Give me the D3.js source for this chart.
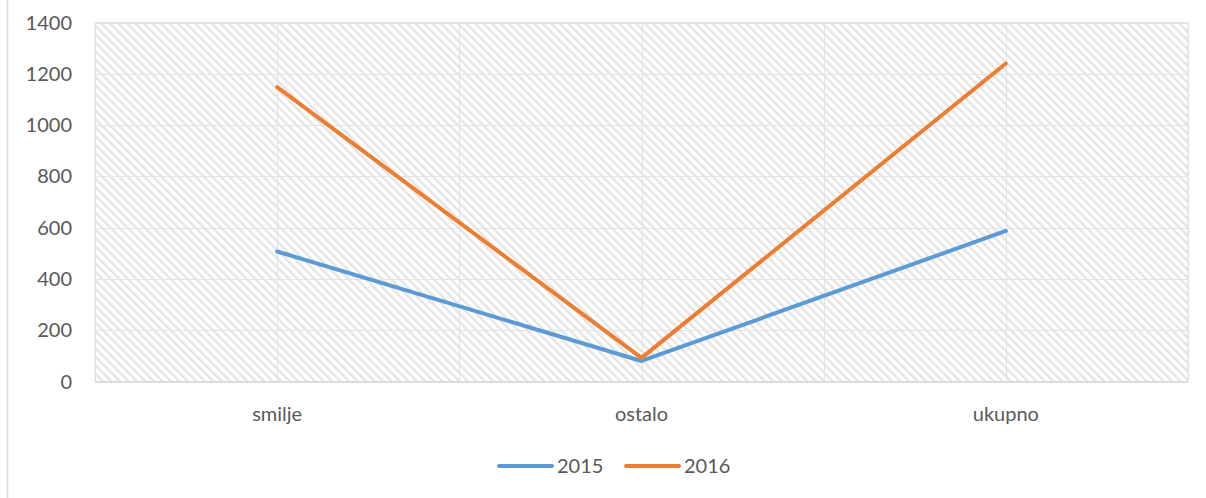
<!DOCTYPE html>
<html>
<head>
<meta charset="utf-8">
<script src="https://cdn.jsdelivr.net/npm/d3@7"></script>
<style>
  body { margin: 0; background: #fff; }
  text { font-family: Lato, "Open Sans", sans-serif; fill: #595959; }
</style>
</head>
<body>
<svg id="chart" width="1206" height="498"></svg>
<script>
var categories = ['smilje', 'ostalo', 'ukupno'];
var seriesNames = ['2015', '2016'];
var values2015 = [507, 80, 587];
var values2016 = [1148, 92, 1240];
var yTicks = [0, 200, 400, 600, 800, 1000, 1200, 1400];
var colors = ['#5B9BD5', '#ED7D31'];

var svg = d3.select('#chart');
var margin = { left: 95, right: 18, top: 22, bottom: 116 };
var width = 1206, height = 498;

// chart border on the left
svg.append('line')
    .attr('x1', 7.5).attr('x2', 7.5)
    .attr('y1', 0).attr('y2', height)
    .attr('stroke', '#d9d9d9').attr('stroke-width', 1.5);

var xBand = d3.scaleBand()
    .domain(categories)
    .range([margin.left, width - margin.right]);
var xScale = d3.scalePoint()
    .domain(categories)
    .range([margin.left, width - margin.right])
    .padding(0.5);
var yScale = d3.scaleLinear()
    .domain([0, 1400])
    .range([height - margin.bottom - 0.5, margin.top + 0.5]);

var defs = svg.append('defs');
var pat = defs.append('pattern')
    .attr('id', 'hatch')
    .attr('patternUnits', 'userSpaceOnUse')
    .attr('width', 6).attr('height', 6)
    .attr('patternTransform', 'rotate(-45)');
pat.append('rect').attr('width', 6).attr('height', 6).attr('fill', '#fff');
pat.append('rect').attr('x', 0).attr('y', 0).attr('width', 2.4).attr('height', 6).attr('fill', '#e4e4e4');

var x0 = margin.left, x1 = width - margin.right;
var yTop = yScale(1400), yBot = yScale(0);

svg.append('rect')
    .attr('x', x0).attr('y', yTop)
    .attr('width', x1 - x0).attr('height', yBot - yTop)
    .attr('fill', 'url(#hatch)')
    .attr('stroke', '#e3e3e3').attr('stroke-width', 1);

// horizontal gridlines
svg.append('g').selectAll('line')
    .data(yTicks)
    .enter().append('line')
    .attr('x1', x0).attr('x2', x1)
    .attr('y1', function (d) { return Math.round(yScale(d)) + 0.5; })
    .attr('y2', function (d) { return Math.round(yScale(d)) + 0.5; })
    .attr('stroke', '#e3e3e3').attr('stroke-width', 1.2);

// vertical gridlines at band edges and centres
var vLines = [];
categories.forEach(function (c) {
    vLines.push(xBand(c));
    vLines.push(xScale(c));
});
vLines.push(x1);
svg.append('g').selectAll('line')
    .data(vLines)
    .enter().append('line')
    .attr('x1', function (d) { return Math.round(d) + 0.5; })
    .attr('x2', function (d) { return Math.round(d) + 0.5; })
    .attr('y1', yTop).attr('y2', yBot)
    .attr('stroke', '#e3e3e3').attr('stroke-width', 1.2);

// x axis line
svg.append('line')
    .attr('x1', x0).attr('x2', x1)
    .attr('y1', yBot + 0.5).attr('y2', yBot + 0.5)
    .attr('stroke', '#d9d9d9').attr('stroke-width', 1.5);

// y tick labels
svg.append('g').selectAll('text')
    .data(yTicks)
    .enter().append('text')
    .attr('x', 72)
    .attr('y', function (d) { return yScale(d); })
    .attr('dy', '0.35em')
    .attr('text-anchor', 'end')
    .style('font-size', '20px')
    .text(function (d) { return d; });

// category labels
svg.append('g').selectAll('text')
    .data(categories)
    .enter().append('text')
    .attr('x', function (d) { return xScale(d); })
    .attr('y', 421)
    .attr('text-anchor', 'middle')
    .style('font-size', '20px')
    .text(function (d) { return d; });

var series = [values2015, values2016];
var line = d3.line()
    .x(function (d, i) { return xScale(categories[i]); })
    .y(function (d) { return yScale(d); });

svg.append('g').selectAll('path')
    .data(series)
    .enter().append('path')
    .attr('d', line)
    .attr('fill', 'none')
    .attr('stroke', function (d, i) { return colors[i]; })
    .attr('stroke-width', 4)
    .attr('stroke-linejoin', 'round')
    .attr('stroke-linecap', 'round');

// legend
var legend = svg.append('g');
var legX = [499, 626];
seriesNames.forEach(function (name, i) {
    legend.append('line')
        .attr('x1', legX[i]).attr('x2', legX[i] + 53)
        .attr('y1', 466).attr('y2', 466)
        .attr('stroke', colors[i]).attr('stroke-width', 4)
        .attr('stroke-linecap', 'round');
    legend.append('text')
        .attr('x', legX[i] + 58)
        .attr('y', 466)
        .attr('dy', '0.35em')
        .style('font-size', '20px')
        .text(name);
});
</script>
</body>
</html>
